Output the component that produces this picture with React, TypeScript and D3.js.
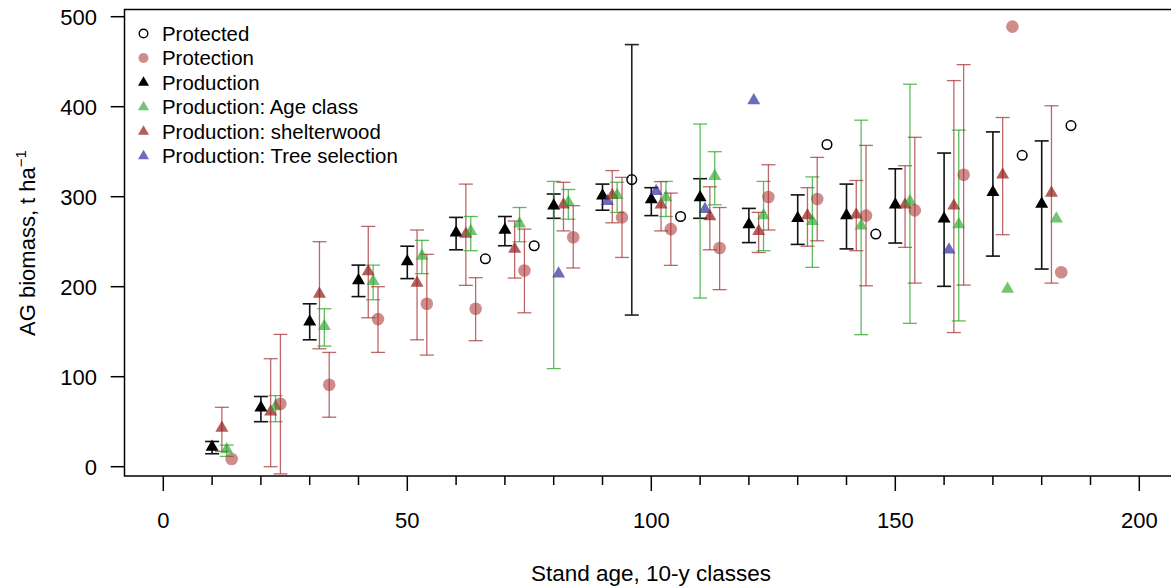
import React from "react";
import * as d3 from "d3";

// ---- data ----
const ageClasses = [10, 20, 30, 40, 50, 60, 70, 80, 90, 100, 110, 120, 130, 140, 150, 160, 170, 180];

type N = number | null;

// Production (black triangles), offset 0
const productionMean: N[] = [22, 65.5, 161, 207, 228, 260, 263, 290, 301, 297, 299, 269, 276, 279, 291, 275.5, 305, 292];
const productionLo: N[] = [14.4, 50, 141, 189, 209, 241, 245.5, 276, 285, 279, 276, 249, 247, 242, 248.5, 200.4, 234, 219.6];
const productionHi: N[] = [28, 78, 181, 224, 245, 277, 278, 303, 314, 310, 320, 287, 302, 314, 331, 348.5, 372, 362];

// Production: shelterwood (red triangles), offset 2
const shelterMean: N[] = [43, 61, 192, 217, 204, 258.5, 242, 291, 301.5, 291, 278, 261.5, 279, 280, 291, 290, 324.4, 304];
const shelterLo: N[] = [17, 0, 131, 165.5, 141, 201.5, 209.6, 262, 271, 262, 241, 238, 245, 240, 243.7, 149, 257.8, 204];
const shelterHi: N[] = [66, 120, 250, 267, 263, 314, 273, 316, 329, 316.7, 311, 282.6, 310, 318, 334.4, 429, 388, 401];

// Production: Age class (green triangles), offset 3
const ageClassMean: N[] = [19, 67, 156, 206, 234, 261.5, 270, 293.7, 301.5, 299, 322.6, 279, 272.6, 267.8, 294.8, 269, 197.4, 275.5];
const ageClassLo: N[] = [11.5, 50, 134, 185.5, 214.5, 240, 250, 275, 282.5, 278, 291, 240, 221.5, 146.7, 159.3, 162, null, null];
const ageClassHi: N[] = [24, 79, 175.5, 224, 251.5, 278, 288, 308, 316, 317, 350, 317, 322, 385, 425, 374, null, null];
// wide green error bars drawn at the class position (offset 0)
const ageClassWideLo: N[] = [null, null, null, null, null, null, null, 109, null, null, 187.4, null, null, null, null, null, null, null];
const ageClassWideHi: N[] = [null, null, null, null, null, null, null, 317, null, null, 380.7, null, null, null, null, null, null, null];

// Protection (red circles), offset 4
const protectionMean: N[] = [8.5, 70, 91, 164, 181, 175.5, 218, 255, 277, 264, 243, 299.6, 297.4, 279, 284.8, 324.4, 489, 216];
const protectionLo: N[] = [null, -8, 55, 127, 124, 140, 171, 220.8, 232.5, 223.7, 196.7, 263, 251, 201, 204, 201.8, null, null];
const protectionHi: N[] = [null, 147, 127, 200, 236, 210, 264, 290, 321.5, 304, 288, 335.5, 343.7, 357, 366, 446.7, null, null];

// Protected (open circles), offset 6
const protectedMean: N[] = [null, null, null, null, null, 231, 245.5, null, 319, 278, null, null, 358, 258.5, null, null, 346, 379];
const protectedLo: N[] = [null, null, null, null, null, null, null, null, 168.5, null, null, null, null, null, null, null, null, null];
const protectedHi: N[] = [null, null, null, null, null, null, null, null, 469, null, null, null, null, null, null, null, null, null];

// Production: Tree selection (blue triangles), offset 1
const treeSelMean: N[] = [null, null, null, null, null, null, null, 214.5, 295, 306, 286, 407, null, null, null, 241, null, null];

const xTicksMajor = [0, 50, 100, 150, 200];
const xTicksMinor = d3.range(0, 201, 10);
const yTicks = [0, 100, 200, 300, 400, 500];

const legendLabels = [
  "Protected",
  "Protection",
  "Production",
  "Production: Age class",
  "Production: shelterwood",
  "Production: Tree selection",
];

// ---- styles ----
const FONT = "'Liberation Sans', Arial, Helvetica, sans-serif";
const C_BLACK = "#000";
const C_RED_TRI = "rgba(150,30,30,0.72)";
const C_RED_CIR = "rgba(165,45,45,0.55)";
const C_RED_BAR = "rgba(160,40,40,0.7)";
const C_GREEN = "rgba(40,165,40,0.65)";
const C_GREEN_BAR = "rgba(40,165,40,0.75)";
const C_BLUE = "rgba(45,45,160,0.7)";

const W = 1171;
const H = 586;
const boxLeft = 124.5;
const boxTop = 9.5;
const boxBottom = 476;

const x = d3.scaleLinear().domain([0, 200]).range([163.3, 1139.3]);
const y = d3.scaleLinear().domain([0, 500]).range([466.7, 16.7]);

function triPath(cx: number, cy: number, s: number) {
  const h = (s * Math.sqrt(3)) / 2;
  const p = d3.path();
  p.moveTo(cx, cy - (2 * h) / 3);
  p.lineTo(cx + s / 2, cy + h / 3);
  p.lineTo(cx - s / 2, cy + h / 3);
  p.closePath();
  return p.toString();
}

function ErrorBars({ lo, hi, offset, color, width, cap = 7 }: { lo: N[]; hi: N[]; offset: number; color: string; width: number; cap?: number }) {
  return (
    <g stroke={color} strokeWidth={width} fill="none">
      {ageClasses.map((a, i) => {
        const l = lo[i];
        const h = hi[i];
        if (l == null || h == null) return null;
        const cx = x(a + offset);
        return (
          <g key={i}>
            <line x1={cx} x2={cx} y1={y(l)} y2={y(h)} />
            <line x1={cx - cap} x2={cx + cap} y1={y(l)} y2={y(l)} />
            <line x1={cx - cap} x2={cx + cap} y1={y(h)} y2={y(h)} />
          </g>
        );
      })}
    </g>
  );
}

function Triangles({ vals, offset, fill, size = 13 }: { vals: N[]; offset: number; fill: string; size?: number }) {
  return (
    <g fill={fill}>
      {ageClasses.map((a, i) => {
        const v = vals[i];
        if (v == null) return null;
        return <path key={i} d={triPath(x(a + offset), y(v), size)} />;
      })}
    </g>
  );
}

function Circles({ vals, offset, fill, stroke, r, sw = 0 }: { vals: N[]; offset: number; fill: string; stroke?: string; r: number; sw?: number }) {
  return (
    <g fill={fill} stroke={stroke || "none"} strokeWidth={sw}>
      {ageClasses.map((a, i) => {
        const v = vals[i];
        if (v == null) return null;
        return <circle key={i} cx={x(a + offset)} cy={y(v)} r={r} />;
      })}
    </g>
  );
}

export default function App() {
  const legY0 = 33.5;
  const legDy = 24.5;
  const legSymX = 143.5;
  const legTextX = 162;
  return (
    <svg
      width={W}
      height={H}
      style={{ position: "absolute", left: 0, top: 0, background: "#fff" }}
      fontFamily={FONT}
    >
      <rect x={0} y={0} width={W} height={H} fill="#fff" />
      {/* box */}
      <path
        d={`M${W + 10},${boxTop} L${boxLeft},${boxTop} L${boxLeft},${boxBottom} L${W + 10},${boxBottom}`}
        fill="none"
        stroke="#000"
        strokeWidth={1.5}
      />
      {/* x axis ticks */}
      <g stroke="#000" strokeWidth={1.5}>
        {xTicksMinor.map((t) => (
          <line key={t} x1={x(t)} x2={x(t)} y1={boxBottom} y2={xTicksMajor.includes(t) ? 491 : 485} />
        ))}
      </g>
      <g fontSize={22} textAnchor="middle" fill="#000">
        {xTicksMajor.map((t) => (
          <text key={t} x={x(t)} y={528}>
            {t}
          </text>
        ))}
      </g>
      {/* y axis ticks */}
      <g stroke="#000" strokeWidth={1.5}>
        {yTicks.map((t) => (
          <line key={t} x1={110.7} x2={boxLeft} y1={y(t)} y2={y(t)} />
        ))}
      </g>
      <g fontSize={22} textAnchor="end" fill="#000">
        {yTicks.map((t) => (
          <text key={t} x={97} y={y(t) + 8}>
            {t}
          </text>
        ))}
      </g>
      {/* axis titles */}
      <text x={651} y={581} fontSize={22.5} textAnchor="middle">
        Stand age, 10-y classes
      </text>
      <text transform="translate(35,243) rotate(-90)" fontSize={22} textAnchor="middle">
        AG biomass, t ha
        <tspan dy={-9} fontSize={15}>−1</tspan>
      </text>

      {/* error bars */}
      <ErrorBars lo={productionLo} hi={productionHi} offset={0} color="#111" width={1.6} />
      <ErrorBars lo={ageClassWideLo} hi={ageClassWideHi} offset={0} color={C_GREEN_BAR} width={1.3} />
      <ErrorBars lo={shelterLo} hi={shelterHi} offset={2} color={C_RED_BAR} width={1.3} />
      <ErrorBars lo={ageClassLo} hi={ageClassHi} offset={3} color={C_GREEN_BAR} width={1.3} />
      <ErrorBars lo={protectionLo} hi={protectionHi} offset={4} color={C_RED_BAR} width={1.3} />
      <ErrorBars lo={protectedLo} hi={protectedHi} offset={6} color="#222" width={1.6} />

      {/* points */}
      <Triangles vals={productionMean} offset={0} fill={C_BLACK} />
      <Triangles vals={treeSelMean} offset={1} fill={C_BLUE} />
      <Triangles vals={shelterMean} offset={2} fill={C_RED_TRI} />
      <Triangles vals={ageClassMean} offset={3} fill={C_GREEN} />
      <Circles vals={protectionMean} offset={4} fill={C_RED_CIR} r={6.3} />
      <Circles vals={protectedMean} offset={6} fill="none" stroke="#000" r={4.8} sw={1.5} />

      {/* legend */}
      <g fontSize={20.4} fill="#000">
        {legendLabels.map((lab, i) => {
          const cy = legY0 + i * legDy;
          let sym: React.ReactNode = null;
          if (i === 0) sym = <circle cx={legSymX} cy={cy} r={4.3} fill="none" stroke="#000" strokeWidth={1.4} />;
          else if (i === 1) sym = <circle cx={legSymX} cy={cy} r={5} fill={C_RED_CIR} />;
          else {
            const fills = [C_BLACK, C_GREEN, C_RED_TRI, C_BLUE];
            sym = <path d={triPath(legSymX, cy, 11)} fill={fills[i - 2]} />;
          }
          return (
            <g key={lab}>
              {sym}
              <text x={legTextX} y={cy + 7}>
                {lab}
              </text>
            </g>
          );
        })}
      </g>
    </svg>
  );
}
